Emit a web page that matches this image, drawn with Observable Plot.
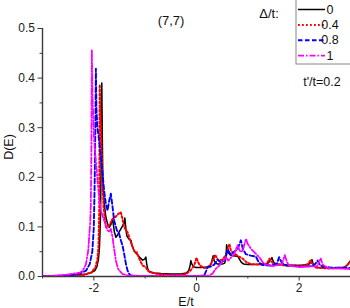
<!DOCTYPE html>
<html><head><meta charset="utf-8">
<script src="https://cdn.jsdelivr.net/npm/d3@7"></script>
<script src="https://cdn.jsdelivr.net/npm/@observablehq/plot@0.6"></script>
<style>body{margin:0;background:#fff;} svg{display:block}</style>
</head><body><div id="chart"></div>
<script>
const deltas = ["0", "0.4", "0.8", "1"];
const colors = ["#000000", "#ff0000", "#0000ff", "#ff00ff"];
const dashes = [null, "1.8,2.2", "4.5,2.5", "6,2,1.5,2"];
const widths = [1.5, 2, 1.9, 1.8];

const e0 = [-3.0,-2.6,-2.3,-2.15,-2.05,-1.98,-1.94,-1.91,-1.89,-1.87,-1.855,-1.845,-1.835,-1.825,-1.80,-1.766,-1.73,-1.70,-1.665,-1.635,-1.60,-1.571,-1.54,-1.507,-1.45,-1.41,-1.396,-1.375,-1.357,-1.32,-1.279,-1.25,-1.215,-1.181,-1.117,-1.051,-1.01,-0.986,-0.97,-0.945,-0.922,-0.825,-0.694,-0.5,-0.3,-0.2,-0.15,-0.125,-0.109,-0.09,-0.06,-0.01,0.1,0.2,0.26,0.295,0.31,0.326,0.345,0.37,0.41,0.5,0.55,0.575,0.587,0.61,0.65,0.7,0.8,0.83,0.87,0.92,1.0,1.2,1.38,1.43,1.47,1.5,1.55,1.8,2.0,2.18,2.23,2.25,2.28,2.35,2.6,2.85,2.93,2.97,3.0];
const d0 = [0.001,0.002,0.003,0.005,0.008,0.012,0.02,0.035,0.06,0.12,0.25,0.39,0.28,0.2,0.15,0.12,0.105,0.099,0.105,0.116,0.09,0.079,0.083,0.09,0.10,0.108,0.118,0.095,0.082,0.076,0.073,0.06,0.052,0.048,0.04,0.033,0.035,0.039,0.025,0.014,0.01,0.007,0.006,0.005,0.005,0.007,0.012,0.022,0.032,0.025,0.02,0.018,0.018,0.019,0.021,0.028,0.036,0.042,0.032,0.028,0.025,0.025,0.027,0.04,0.064,0.05,0.044,0.042,0.041,0.036,0.029,0.025,0.024,0.024,0.026,0.031,0.038,0.029,0.025,0.023,0.022,0.024,0.029,0.034,0.022,0.018,0.017,0.018,0.022,0.028,0.032];

const e04 = [-3.0,-2.5,-2.2,-2.05,-1.97,-1.93,-1.91,-1.895,-1.885,-1.87,-1.85,-1.83,-1.81,-1.766,-1.73,-1.70,-1.665,-1.635,-1.58,-1.526,-1.495,-1.474,-1.44,-1.41,-1.343,-1.279,-1.214,-1.185,-1.162,-1.117,-1.05,-0.986,-0.953,-0.889,-0.758,-0.5,-0.3,-0.2,-0.12,-0.06,-0.02,0.0,0.03,0.07,0.15,0.22,0.28,0.33,0.365,0.4,0.44,0.5,0.55,0.6,0.64,0.67,0.735,0.83,0.9,0.97,1.06,1.3,1.38,1.42,1.46,1.52,1.8,2.1,2.18,2.22,2.26,2.32,2.6,2.88,2.95,3.0];
const d04 = [0.0,0.001,0.003,0.008,0.018,0.035,0.06,0.13,0.387,0.33,0.26,0.19,0.14,0.10,0.10,0.103,0.11,0.116,0.12,0.126,0.128,0.13,0.115,0.10,0.089,0.069,0.052,0.047,0.049,0.036,0.022,0.019,0.012,0.008,0.005,0.003,0.003,0.005,0.012,0.02,0.03,0.038,0.029,0.022,0.017,0.018,0.025,0.036,0.044,0.036,0.032,0.034,0.04,0.05,0.066,0.052,0.046,0.04,0.036,0.029,0.025,0.024,0.027,0.036,0.03,0.024,0.022,0.022,0.026,0.033,0.024,0.018,0.016,0.018,0.024,0.03];

const e08 = [-3.0,-2.5,-2.3,-2.15,-2.08,-2.03,-2.0,-1.985,-1.97,-1.96,-1.95,-1.93,-1.897,-1.864,-1.83,-1.80,-1.766,-1.733,-1.70,-1.669,-1.635,-1.604,-1.552,-1.507,-1.474,-1.44,-1.41,-1.376,-1.343,-1.31,-1.279,-1.2,-1.0,-0.5,0.0,0.15,0.19,0.216,0.28,0.345,0.41,0.476,0.56,0.606,0.67,0.735,0.8,0.865,0.904,0.963,1.06,1.158,1.216,1.29,1.45,1.567,1.61,1.66,1.74,2.0,2.25,2.31,2.36,2.41,2.6,3.0];
const d08 = [0.0,0.002,0.005,0.012,0.025,0.05,0.1,0.18,0.3,0.419,0.34,0.3,0.274,0.24,0.207,0.173,0.147,0.133,0.153,0.167,0.14,0.113,0.093,0.086,0.073,0.062,0.046,0.026,0.012,0.005,0.002,0.001,0.001,0.001,0.001,0.002,0.012,0.019,0.02,0.024,0.034,0.028,0.035,0.054,0.044,0.05,0.055,0.073,0.055,0.045,0.042,0.04,0.028,0.023,0.022,0.026,0.039,0.028,0.022,0.02,0.021,0.025,0.032,0.022,0.018,0.017];

const e1 = [-3.0,-2.7,-2.5,-2.4,-2.318,-2.27,-2.22,-2.156,-2.111,-2.092,-2.07,-2.058,-2.048,-2.039,-2.025,-1.994,-1.961,-1.928,-1.897,-1.864,-1.80,-1.733,-1.70,-1.669,-1.635,-1.604,-1.571,-1.526,-1.44,-1.343,-1.0,0.0,0.25,0.314,0.378,0.443,0.509,0.573,0.62,0.67,0.735,0.80,0.85,0.9,0.963,0.996,1.06,1.125,1.222,1.288,1.353,1.5,1.66,1.72,1.76,1.8,2.0,2.35,2.42,2.46,2.55,3.0];
const d1 = [0.0,0.002,0.004,0.006,0.007,0.008,0.011,0.024,0.051,0.078,0.11,0.15,0.25,0.457,0.36,0.274,0.234,0.194,0.16,0.133,0.113,0.093,0.09,0.096,0.079,0.055,0.032,0.015,0.005,0.002,0.001,0.001,0.002,0.006,0.016,0.022,0.03,0.039,0.032,0.038,0.046,0.063,0.05,0.052,0.076,0.066,0.056,0.049,0.039,0.029,0.024,0.021,0.025,0.043,0.03,0.022,0.019,0.021,0.036,0.024,0.017,0.015];

const seriesE = [e0, e04, e08, e1];
const seriesD = [d0, d04, d08, d1];

const xTicks = [-2, 0, 2];
const xMinor = [-3, -1, 1, 3];
const yTicks = [0, 0.1, 0.2, 0.3, 0.4, 0.5];
const yMinor = [0.05, 0.15, 0.25, 0.35, 0.45];
const titleText = "(7,7)";
const noteText = "t'/t=0.2";
const xLabel = "E/t";
const yLabel = "D(E)";
const legendTitle = "Δ/t:";

const rows = deltas.flatMap((k, i) => seriesE[i].map((e, j) => ({delta: k, E: e, D: seriesD[i][j]})));
const axisColor = "#3a3a3a";
const font = "'Liberation Sans', Arial, sans-serif";

const plot = Plot.plot({
  width: 350, height: 308,
  marginLeft: 42, marginRight: 0, marginTop: 28, marginBottom: 32,
  style: {fontFamily: font, fontSize: "12px", background: "#fff", color: "#222"},
  x: {domain: [-3, 3], label: null},
  y: {domain: [0, 0.5], label: null},
  marks: [
    Plot.ruleX([-3], {stroke: axisColor, strokeWidth: 1.4}),
    Plot.ruleY([0], {stroke: axisColor, strokeWidth: 1.4}),
    Plot.axisX({ticks: xTicks, tickSize: 4.5, tickPadding: 2, tickFormat: d => String(d), stroke: axisColor, label: null}),
    Plot.axisX({ticks: xMinor, tickSize: 2.5, tickFormat: () => "", stroke: axisColor, label: null}),
    Plot.axisY({ticks: yTicks, tickSize: 4.5, tickPadding: 3, tickFormat: d3.format(".1f"), stroke: axisColor, label: null}),
    Plot.axisY({ticks: yMinor, tickSize: 2.5, tickFormat: () => "", stroke: axisColor, label: null}),
    ...deltas.map((k, i) => Plot.line(rows.filter(r => r.delta === k), {
      x: "E", y: "D", stroke: colors[i], strokeWidth: widths[i],
      strokeDasharray: dashes[i] || undefined, clip: true
    }))
  ]
});

const svg = d3.select(plot);
const g = svg.append("g").attr("font-family", font).attr("fill", "#111");
// title and labels
g.append("text").attr("x", 171).attr("y", 20).attr("text-anchor", "middle").attr("dominant-baseline", "central").attr("font-size", 13).text(titleText);
g.append("text").attr("x", 186).attr("y", 302).attr("text-anchor", "middle").attr("dominant-baseline", "central").attr("font-size", 12.5).text(xLabel);
g.append("text").attr("transform", "translate(9,147) rotate(-90)").attr("text-anchor", "middle").attr("dominant-baseline", "central").attr("font-size", 12.5).text(yLabel);
g.append("text").attr("x", 322).attr("y", 82).attr("text-anchor", "middle").attr("dominant-baseline", "central").attr("font-size", 12.5).text(noteText);
// legend
g.append("text").attr("x", 269).attr("y", 13.5).attr("dominant-baseline", "central").attr("font-size", 13).text(legendTitle);
g.append("rect").attr("x", 296).attr("y", -2).attr("width", 60).attr("height", 66).attr("fill", "#fff").attr("stroke", "#888").attr("stroke-width", 1);
deltas.forEach((k, i) => {
  const y = 9.5 + i * 15.4;
  const ln = g.append("line").attr("x1", 298).attr("x2", 325).attr("y1", y).attr("y2", y)
    .attr("stroke", colors[i]).attr("stroke-width", widths[i]);
  if (dashes[i]) ln.attr("stroke-dasharray", dashes[i]);
  g.append("text").attr("x", 330).attr("y", y).attr("dominant-baseline", "central").attr("font-size", 12.5).text(k);
});

document.getElementById("chart").appendChild(plot);
</script>
</body></html>
